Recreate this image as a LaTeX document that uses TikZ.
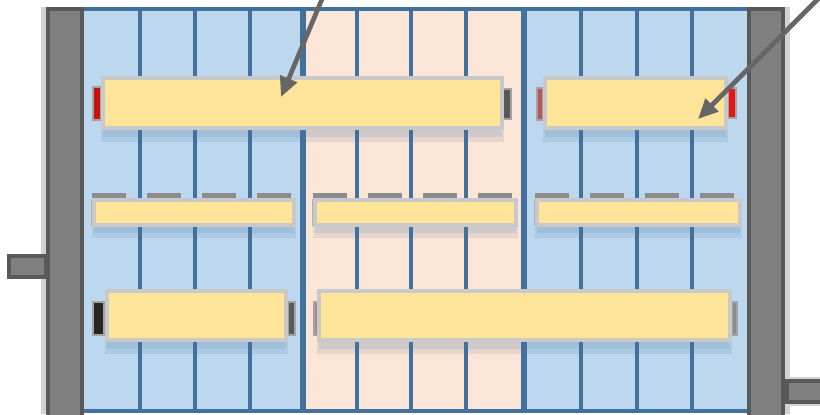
\documentclass[tikz,border=0pt]{standalone}
\usepackage{tikz}
\usetikzlibrary{arrows.meta}
\definecolor{pnlblue}{RGB}{189,215,238}
\definecolor{pnlpeach}{RGB}{251,229,214}
\definecolor{railblue}{RGB}{65,113,156}
\definecolor{endgray}{RGB}{128,128,128}
\definecolor{enddark}{RGB}{89,89,89}
\definecolor{endhalo}{RGB}{210,210,210}
\definecolor{barfill}{RGB}{254,228,153}
\definecolor{barline}{RGB}{201,201,201}
\definecolor{dashgray}{RGB}{140,140,140}
\definecolor{tabred}{RGB}{235,20,20}
\definecolor{tabdull}{RGB}{185,85,85}
\definecolor{tabpink}{RGB}{175,140,140}
\definecolor{arrgray}{RGB}{102,102,102}

\begin{document}
\begin{tikzpicture}[x=0.03cm, y=-0.03cm,
  railline/.style={railblue, line width=4pt},
  endbar/.style={draw=enddark, fill=endgray, line width=3.2pt},
  yellowbar/.style={draw=barline, fill=barfill, line width=3.4pt},
  tab/.style={draw=dashgray!80, line width=1.6pt},
  glow/.style={railblue, opacity=0.12},
  pointer/.style={arrgray, line width=4pt, -{Triangle[length=17pt, width=15pt]}}]

\useasboundingbox (0,0) rectangle (820,414);

% === Panels ===
\fill[pnlblue] (84,9) rectangle (303,411);
\fill[pnlpeach] (303,9) rectangle (524,411);
\fill[pnlblue] (524,9) rectangle (747,411);
\foreach \x in {140,195,250,357,411,466,581,637,692}
  \draw[railline] (\x,9) -- (\x,411);
\draw[railline, line width=4.6pt] (303,9) -- (303,411);
\draw[railline, line width=4.6pt] (524,9) -- (524,411);
\draw[railline] (84,9) -- (747,9);
\draw[railline] (84,411) -- (747,411);

% === End bars and stubs ===
\fill[endhalo] (41,7) rectangle (48,414);
\draw[endbar] (48,9) rectangle (82,418);
\fill[endhalo] (783,7) rectangle (790,414);
\draw[endbar] (749,9) rectangle (783,418);
\draw[endbar] (9,256) rectangle (46,277);
\fill[endhalo] (785,377) rectangle (822,406);
\draw[endbar] (787,381) rectangle (824,402);

% === Top row ===
\foreach \a/\b in {103/502, 545/726} {
  \fill[glow] (\a-2,84) rectangle (\b+2,142);
  \fill[glow] (\a,84) rectangle (\b,137);
}
\draw[tab, fill=tabred!85!black] (93,87) rectangle (101,120);
\draw[tab, fill=enddark] (503,89) rectangle (511,119);
\draw[tab, fill=tabdull] (537,88) rectangle (543,120);
\draw[tab, fill=tabred] (728,88) rectangle (736,118);
\draw[yellowbar] (103,78) rectangle (502,128);
\draw[yellowbar] (545,78) rectangle (726,128);

% === Middle row ===
\foreach \a/\b in {94/294, 315/516, 537/740} {
  \fill[glow] (\a-2,203) rectangle (\b+2,238);
  \fill[glow] (\a,203) rectangle (\b,233);
  \draw[dashgray, line width=4.5pt, dash pattern=on 29pt off 18pt] (\a-2,196) -- (\b+1,196);
  \draw[dashgray!70, line width=3pt] (\a-1,199) -- (\a-1,226);
  \draw[yellowbar, line width=3pt] (\a,200) rectangle (\b,225);
}

% === Bottom row ===
\foreach \a/\b in {107/286, 319/730} {
  \fill[glow] (\a-2,297) rectangle (\b+2,354);
  \fill[glow] (\a,297) rectangle (\b,349);
}
\draw[tab, fill=black!85] (93,302) rectangle (104,335);
\draw[tab, fill=enddark] (288,302) rectangle (295,335);
\draw[tab, fill=tabpink] (314,302) rectangle (318,335);
\draw[tab, fill=dashgray] (732,302) rectangle (737,335);
\draw[yellowbar] (107,291) rectangle (286,340);
\draw[yellowbar] (319,291) rectangle (730,340);

% === Pointers ===
\coordinate (srcA) at (325,-8);
\coordinate (tipA) at (281,97);
\coordinate (srcB) at (823,-6);
\coordinate (tipB) at (698,119);
\draw[pointer] (srcA) -- (tipA);
\draw[pointer] (srcB) -- (tipB);

\end{tikzpicture}
\end{document}
